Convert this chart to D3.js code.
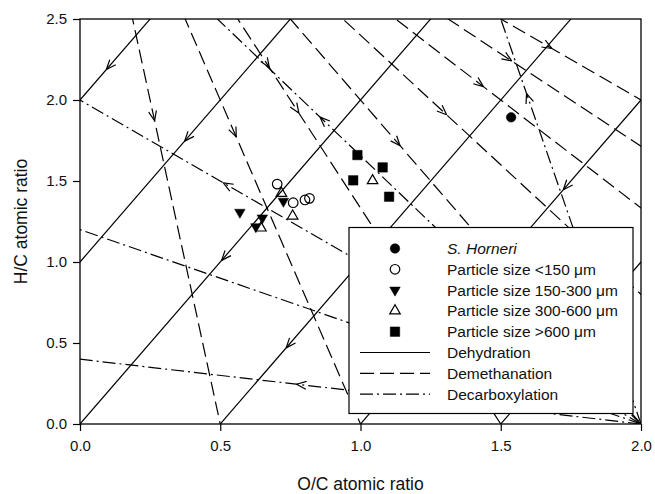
<!DOCTYPE html>
<html><head><meta charset="utf-8">
<script src="https://cdn.jsdelivr.net/npm/d3@7"></script>
<style>body{margin:0;background:#fff}</style>
</head><body><svg id="c" width="655" height="494"></svg>
<script>
// ---- data ----
const xTicks = [0, 0.5, 1.0, 1.5, 2.0];
const yTicks = [0, 0.5, 1.0, 1.5, 2.0, 2.5];
// Dehydration: y = 2x + c
const dehydrationIntercepts = [2.0, 1.0, 0.0, -1.0, -2.0, -3.0];
const dehydrationArrowX = [[0.094], [0.373], [0.505], [0.735], [1.723], []];
// Demethanation: lines from (0,4) to (e,0)
const demethanationEnds = [0.5, 1.0, 1.5, 2.0, 2.5, 3.0, 3.5, 4.0];
const demethanationArrowX = [[0.266], [0.557], [0.675, 0.78], [1.141], [1.307], [1.438], [1.539], [1.682]];
// Decarboxylation: lines from (2,0) to given point
const decarboxylationEnds = [[0, 0.4], [0, 1.2], [0, 2.0], [0.49, 2.5], [1.5, 2.5]];
const decarboxylationArrowX = [[0.772], [], [0.511], [0.856], [1.592]];

const sHorneri = [[1.537, 1.893]];
const size150 = [[0.703, 1.481], [0.760, 1.366], [0.802, 1.383], [0.818, 1.393]];
const size150_300 = [[0.570, 1.307], [0.725, 1.375], [0.650, 1.272], [0.627, 1.218]];
const size300_600 = [[0.718, 1.424], [0.758, 1.284], [0.645, 1.210], [1.043, 1.502]];
const size600 = [[0.989, 1.660], [1.079, 1.584], [0.974, 1.504], [1.102, 1.403]];

const legendLabels = ["S. Horneri", "Particle size <150 \u03bcm", "Particle size 150-300 \u03bcm",
  "Particle size 300-600 \u03bcm", "Particle size >600 \u03bcm", "Dehydration", "Demethanation", "Decarboxylation"];

// ---- layout ----
const W = 655, H = 494;
const m = {l: 80, t: 19, r: 14, b: 70};
const pw = W - m.l - m.r, ph = H - m.t - m.b;
const FONT = "Arial, 'Liberation Sans', sans-serif";
const svg = d3.select("#c");
const x = d3.scaleLinear().domain([0, 2]).range([m.l, m.l + pw]);
const y = d3.scaleLinear().domain([0, 2.5]).range([m.t + ph, m.t]);

svg.append("defs").append("clipPath").attr("id", "clip")
  .append("rect").attr("x", m.l).attr("y", m.t).attr("width", pw).attr("height", ph);

const gl = svg.append("g").attr("clip-path", "url(#clip)");
const DASH = "14,6", DASHDOT = "13,4,2,4";
const lw = 1.2;

function drawLine(p1, p2, dash) {
  gl.append("line").attr("x1", x(p1[0])).attr("y1", y(p1[1]))
    .attr("x2", x(p2[0])).attr("y2", y(p2[1]))
    .attr("stroke", "#000").attr("stroke-width", lw).attr("stroke-dasharray", dash || null);
}
function drawArrow(p1, p2, ax, forwardX) {
  const t = (ax - p1[0]) / (p2[0] - p1[0]);
  const ay = p1[1] + t * (p2[1] - p1[1]);
  const px = x(ax), py = y(ay);
  let dx = x(p2[0]) - x(p1[0]), dy = y(p2[1]) - y(p1[1]);
  if ((forwardX > 0 && dx < 0) || (forwardX < 0 && dx > 0)) { dx = -dx; dy = -dy; }
  const len = Math.hypot(dx, dy); dx /= len; dy /= len;
  const L = 10.5, th = 22 * Math.PI / 180;
  [th, -th].forEach(a => {
    const rx = dx * Math.cos(a) - dy * Math.sin(a);
    const ry = dx * Math.sin(a) + dy * Math.cos(a);
    gl.append("line").attr("x1", px).attr("y1", py)
      .attr("x2", px - L * rx).attr("y2", py - L * ry)
      .attr("stroke", "#000").attr("stroke-width", lw);
  });
}

dehydrationIntercepts.forEach((c, i) => {
  const p1 = [-1, 2 * -1 + c], p2 = [3, 2 * 3 + c];
  drawLine(p1, p2, null);
  dehydrationArrowX[i].forEach(ax => drawArrow(p1, p2, ax, -1));
});
demethanationEnds.forEach((e, i) => {
  const p1 = [0, 4], p2 = [e, 0];
  drawLine(p1, p2, DASH);
  demethanationArrowX[i].forEach(ax => drawArrow(p1, p2, ax, 1));
});
decarboxylationEnds.forEach((e, i) => {
  const p1 = [2, 0], p2 = e;
  drawLine(p1, p2, DASHDOT);
  decarboxylationArrowX[i].forEach(ax => drawArrow(p1, p2, ax, -1));
});

// ---- points ----
const symCircle = d3.symbol().type(d3.symbolCircle).size(72)();
const symTri = d3.symbol().type(d3.symbolTriangle).size(48)();
const symSq = d3.symbol().type(d3.symbolSquare).size(90)();
const series = [
  {data: sHorneri, path: symCircle, fill: "#000", rot: 0},
  {data: size150, path: symCircle, fill: "none", rot: 0},
  {data: size150_300, path: symTri, fill: "#000", rot: 180},
  {data: size300_600, path: symTri, fill: "none", rot: 0},
  {data: size600, path: symSq, fill: "#000", rot: 0}
];
series.forEach(s => {
  svg.append("g").selectAll("path").data(s.data).join("path")
    .attr("d", s.path)
    .attr("transform", d => `translate(${x(d[0])},${y(d[1])}) rotate(${s.rot})`)
    .attr("fill", s.fill).attr("stroke", "#000").attr("stroke-width", s.fill === "none" ? 1.2 : 0.5);
});

// ---- axes ----
const fmt = d3.format(".1f");
const xa = svg.append("g").attr("transform", `translate(0,${m.t + ph})`)
  .call(d3.axisBottom(x).tickValues(xTicks).tickFormat(fmt).tickSize(7).tickSizeOuter(0).tickPadding(9));
const ya = svg.append("g").attr("transform", `translate(${m.l},0)`)
  .call(d3.axisLeft(y).tickValues(yTicks).tickFormat(fmt).tickSize(7).tickSizeOuter(0).tickPadding(6));
[xa, ya].forEach(g => {
  g.select(".domain").remove();
  g.selectAll("line").attr("stroke", "#000").attr("stroke-width", 1.2);
  g.selectAll("text").attr("font-family", FONT).attr("font-size", 15).attr("fill", "#111");
});
svg.append("rect").attr("x", m.l).attr("y", m.t).attr("width", pw).attr("height", ph)
  .attr("fill", "none").attr("stroke", "#000").attr("stroke-width", 1.3);

svg.append("text").attr("x", m.l + pw / 2).attr("y", 490).attr("text-anchor", "middle")
  .attr("font-family", FONT).attr("font-size", 17.5).attr("fill", "#111").text("O/C atomic ratio");
svg.append("text").attr("transform", `translate(26.5,${m.t + ph / 2}) rotate(-90)`).attr("text-anchor", "middle")
  .attr("font-family", FONT).attr("font-size", 17.5).attr("fill", "#111").text("H/C atomic ratio");

// ---- legend ----
const lg = svg.append("g");
lg.append("rect").attr("x", 349).attr("y", 227.5).attr("width", 284).attr("height", 186)
  .attr("fill", "#fff").attr("stroke", "#000").attr("stroke-width", 1.2);
const rowY = i => 248.5 + i * 20.8;
series.forEach((s, i) => {
  lg.append("path").attr("d", s.path)
    .attr("transform", `translate(395,${rowY(i)}) rotate(${s.rot})`)
    .attr("fill", s.fill).attr("stroke", "#000").attr("stroke-width", s.fill === "none" ? 1.2 : 0.5);
});
[null, DASH, DASHDOT].forEach((d, j) => {
  lg.append("line").attr("x1", 360).attr("x2", 430).attr("y1", rowY(5 + j)).attr("y2", rowY(5 + j))
    .attr("stroke", "#000").attr("stroke-width", lw).attr("stroke-dasharray", d);
});
legendLabels.forEach((t, i) => {
  lg.append("text").attr("x", 447).attr("y", rowY(i) + 5.4)
    .attr("font-family", FONT).attr("font-size", 15.5).attr("fill", "#111")
    .attr("font-style", i === 0 ? "italic" : null).text(t);
});
</script>
</body></html>
